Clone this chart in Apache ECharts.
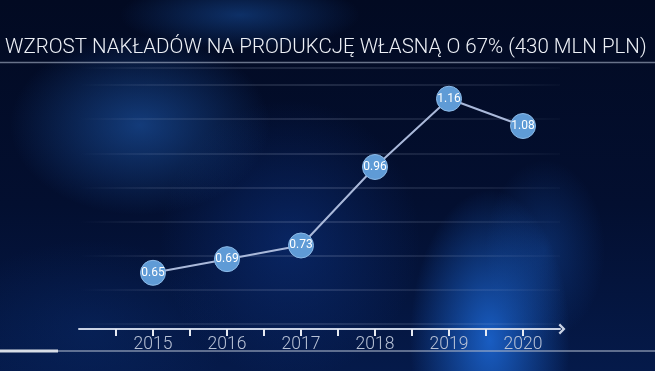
<!DOCTYPE html>
<html>
<head>
<meta charset="utf-8">
<script src="https://cdn.jsdelivr.net/npm/echarts@6/dist/echarts.min.js"></script>
<style>
html,body{margin:0;padding:0;background:#020818;}
#chart{width:655px;height:371px;
background:
 radial-gradient(ellipse 130px 90px at 140px 125px, rgba(30,90,175,0.6), rgba(30,90,175,0) 100%),
 radial-gradient(ellipse 130px 140px at 290px 240px, rgba(15,60,150,0.45), rgba(15,60,150,0) 100%),
 radial-gradient(ellipse 80px 150px at 490px 340px, rgba(30,110,225,0.8), rgba(30,110,225,0) 100%),
 radial-gradient(ellipse 60px 90px at 545px 250px, rgba(25,90,190,0.35), rgba(25,90,190,0) 100%),
 radial-gradient(ellipse 120px 35px at 240px 15px, rgba(25,85,170,0.5), rgba(25,85,170,0) 100%),
 radial-gradient(ellipse 140px 90px at 90px 330px, rgba(10,45,110,0.4), rgba(10,45,110,0) 100%),
 linear-gradient(180deg, #020a22 0%, #030f30 55%, #051a4a 100%);}
</style>
</head>
<body>
<div id="chart"></div>
<script>
const titleText = 'WZROST NAKŁADÓW NA PRODUKCJĘ WŁASNĄ O 67% (430 MLN PLN)';
const years = [2015, 2016, 2017, 2018, 2019, 2020];
const values = [0.65, 0.69, 0.73, 0.96, 1.16, 1.08];
const yMin = 0.5, yMax = 1.25, yStep = 0.1;
const xMin = 2014, xMax = 2020.5;

const tickValues = years.flatMap(y => [y - 0.5, y]);

const chart = echarts.init(document.getElementById('chart'), null, {renderer: 'canvas'});
chart.setOption({
  backgroundColor: 'transparent',
  animation: false,
  title: {
    text: titleText, left: 5, top: 37, padding: 0,
    textStyle: {color: '#eef1f7', fontFamily: 'Roboto', fontWeight: 300, fontSize: 20.5}
  },
  graphic: [
    {type: 'line', shape: {x1: 0, y1: 62.5, x2: 655, y2: 62.5}, style: {stroke: 'rgba(190,200,220,0.55)', lineWidth: 1.5}},
    {type: 'line', shape: {x1: 58, y1: 351, x2: 655, y2: 351}, style: {stroke: 'rgba(170,180,200,0.55)', lineWidth: 2}},
    {type: 'line', shape: {x1: 0, y1: 351, x2: 58, y2: 351}, style: {stroke: '#d8dde6', lineWidth: 3}}
  ],
  grid: {left: 79, right: 95, top: 68, bottom: 47},
  xAxis: {
    type: 'value', min: xMin, max: xMax, interval: 0.5, offset: 5,
    axisLine: {show: true, lineStyle: {color: '#c9d2e4', width: 2},
      symbol: ['none', 'path://M0,10 L10,0 L20,10 L17,13 L10,6 L3,13 Z'], symbolSize: [12, 7], symbolOffset: [0, 2]},
    axisTick: {show: true, length: 7, customValues: tickValues, lineStyle: {color: '#e6eaf2', width: 2}},
    axisLabel: {customValues: years, color: '#b8c2d6', fontFamily: 'Roboto', fontWeight: 300, fontSize: 17.5, margin: 7,
      formatter: v => String(Math.round(v))},
    splitLine: {show: false}
  },
  yAxis: {
    type: 'value', min: yMin, max: yMax, interval: yStep,
    axisLine: {show: false}, axisTick: {show: false}, axisLabel: {show: false},
    splitLine: {show: true, lineStyle: {width: 1.5, color: new echarts.graphic.LinearGradient(0, 0, 1, 0, [
      {offset: 0, color: 'rgba(200,210,235,0)'},
      {offset: 0.15, color: 'rgba(200,210,235,0.12)'},
      {offset: 0.5, color: 'rgba(200,210,235,0.2)'},
      {offset: 0.85, color: 'rgba(200,210,235,0.12)'},
      {offset: 1, color: 'rgba(200,210,235,0.03)'}
    ])}}
  },
  series: [{
    type: 'line',
    data: years.map((y, i) => [y, values[i]]),
    symbol: 'circle', symbolSize: 25,
    lineStyle: {color: '#aab9da', width: 2},
    itemStyle: {color: '#5f9bd6', borderColor: '#8dbbe8', borderWidth: 1},
    label: {show: true, position: 'inside', color: '#ffffff', fontFamily: 'Roboto', fontSize: 12,
      formatter: p => p.value[1].toFixed(2)},
    z: 5
  }]
});
</script>
</body>
</html>
